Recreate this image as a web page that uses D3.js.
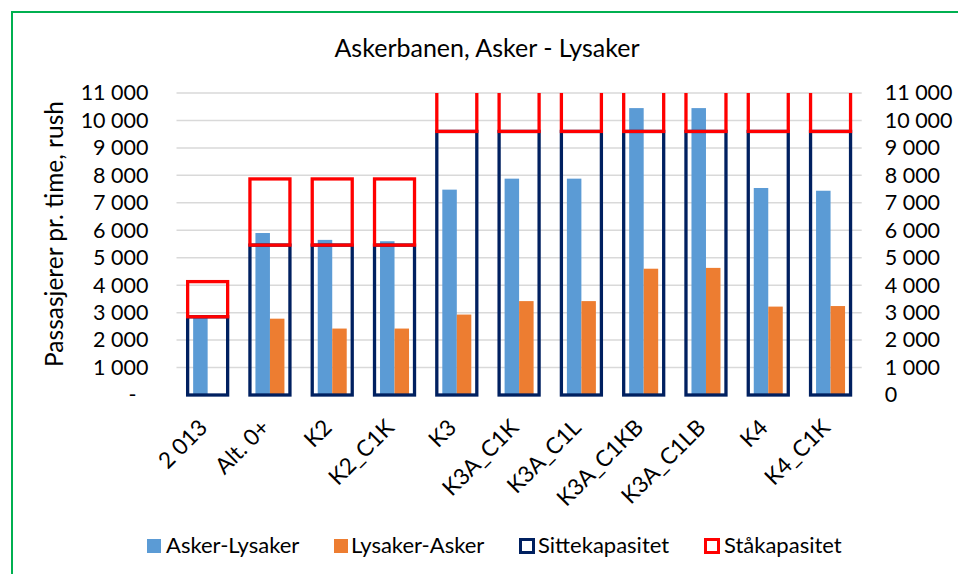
<!DOCTYPE html>
<html>
<head>
<meta charset="utf-8">
<script src="https://cdnjs.cloudflare.com/ajax/libs/d3/7.8.5/d3.min.js"></script>
<style>
  body { margin: 0; background: #fff; }
  text { font-family: Lato, 'Noto Sans', sans-serif; fill: #000; }
</style>
</head>
<body>
<div id="graph"></div>
<script>
'use strict';
// data
var categories = ['2 013', 'Alt. 0+', 'K2', 'K2_C1K', 'K3', 'K3A_C1K', 'K3A_C1L', 'K3A_C1KB', 'K3A_C1LB', 'K4', 'K4_C1K'];
var askerLysaker = [2850, 5900, 5650, 5600, 7480, 7880, 7880, 10450, 10450, 7540, 7440];
var lysakerAsker = [0, 2780, 2420, 2420, 2930, 3420, 3420, 4600, 4630, 3220, 3240];
var sittekapasitet = [2850, 5460, 5460, 5460, 9600, 9600, 9600, 9600, 9600, 9600, 9600];
var staakapasitet = [1280, 2410, 2410, 2410, 4400, 4400, 4400, 4400, 4400, 4400, 4400];
var yTicks = [0, 1000, 2000, 3000, 4000, 5000, 6000, 7000, 8000, 9000, 10000, 11000];
var seriesNames = ['Asker-Lysaker', 'Lysaker-Asker', 'Sittekapasitet', 'Ståkapasitet'];

var canvasWidth = 958;
var canvasHeight = 574;
var plot = { left: 176.5, right: 861.7, top: 93, bottom: 395 };

var colors = { blue: '#5b9bd5', orange: '#ed7d31', navy: '#002060', red: '#ff0000' };

var svg = d3.select('#graph')
  .append('svg')
  .attr('width', canvasWidth)
  .attr('height', canvasHeight);

// green frame of the chart object
svg.append('rect')
  .attr('x', 12)
  .attr('y', 12)
  .attr('width', canvasWidth)
  .attr('height', canvasHeight)
  .attr('fill', 'none')
  .attr('stroke', '#00b050')
  .attr('stroke-width', 2);

var locale = d3.formatLocale({ decimal: ',', thousands: ' ', grouping: [3], currency: ['', ''] });
var fmt = locale.format(',');

var xScale = d3.scaleBand().domain(categories).range([plot.left, plot.right]);
var yScale = d3.scaleLinear().domain([0, 11000]).range([plot.bottom, plot.top]);

// gridlines (no line at 0)
svg.append('g')
  .selectAll('line')
  .data(yTicks.filter(function(d) { return d > 0; }))
  .enter()
  .append('line')
  .attr('x1', plot.left)
  .attr('x2', plot.right)
  .attr('y1', function(d) { return yScale(d); })
  .attr('y2', function(d) { return yScale(d); })
  .attr('stroke', '#d9d9d9')
  .attr('stroke-width', 1.5);

// left axis
var leftAxis = svg.append('g')
  .attr('transform', 'translate(' + (plot.left - 28) + ',0)')
  .call(d3.axisLeft(yScale).tickValues(yTicks).tickSize(0).tickPadding(0)
    .tickFormat(function(d) { return d === 0 ? '-' : fmt(d); }));
// right axis
var rightAxis = svg.append('g')
  .attr('transform', 'translate(' + (plot.right + 23) + ',0)')
  .call(d3.axisRight(yScale).tickValues(yTicks).tickSize(0).tickPadding(0)
    .tickFormat(function(d) { return fmt(d); }));
[leftAxis, rightAxis].forEach(function(ax) {
  ax.select('.domain').remove();
  ax.selectAll('text')
    .attr('font-family', 'Lato, sans-serif')
    .attr('font-size', '21.5px')
    .attr('fill', '#000');
});
leftAxis.selectAll('.tick')
  .filter(function(d) { return d === 0; })
  .select('text')
  .attr('transform', 'translate(-12,0)');

// clustered bars
var barWidth = 14.5;
var bars = svg.append('g');
bars.selectAll('.blue')
  .data(askerLysaker)
  .enter()
  .append('rect')
  .attr('x', function(d, i) { return xScale(categories[i]) + xScale.bandwidth() / 2 - barWidth; })
  .attr('y', function(d) { return yScale(d); })
  .attr('width', barWidth)
  .attr('height', function(d) { return yScale(0) - yScale(d); })
  .attr('fill', colors.blue);
bars.selectAll('.orange')
  .data(lysakerAsker)
  .enter()
  .append('rect')
  .attr('x', function(d, i) { return xScale(categories[i]) + xScale.bandwidth() / 2; })
  .attr('y', function(d) { return yScale(d); })
  .attr('width', barWidth)
  .attr('height', function(d) { return yScale(0) - yScale(d); })
  .attr('fill', colors.orange);

// stacked capacity boxes, clipped to the plot area
svg.append('clipPath')
  .attr('id', 'plotClip')
  .append('rect')
  .attr('x', plot.left - 10)
  .attr('y', plot.top)
  .attr('width', plot.right - plot.left + 20)
  .attr('height', plot.bottom - plot.top + 10);

var boxWidth = 40;
var boxes = svg.append('g').attr('clip-path', 'url(#plotClip)');
boxes.selectAll('.sitte')
  .data(sittekapasitet)
  .enter()
  .append('rect')
  .attr('x', function(d, i) { return xScale(categories[i]) + (xScale.bandwidth() - boxWidth) / 2; })
  .attr('y', function(d) { return yScale(d); })
  .attr('width', boxWidth)
  .attr('height', function(d) { return yScale(0) - yScale(d); })
  .attr('fill', 'none')
  .attr('stroke', colors.navy)
  .attr('stroke-width', 3.3);
boxes.selectAll('.staa')
  .data(staakapasitet)
  .enter()
  .append('rect')
  .attr('x', function(d, i) { return xScale(categories[i]) + (xScale.bandwidth() - boxWidth) / 2; })
  .attr('y', function(d, i) { return yScale(sittekapasitet[i] + d); })
  .attr('width', boxWidth)
  .attr('height', function(d, i) { return yScale(sittekapasitet[i]) - yScale(sittekapasitet[i] + d); })
  .attr('fill', 'none')
  .attr('stroke', colors.red)
  .attr('stroke-width', 3.3);

// category labels, rotated
svg.append('g')
  .selectAll('text')
  .data(categories)
  .enter()
  .append('text')
  .attr('transform', function(d) {
    return 'translate(' + (xScale(d) + xScale.bandwidth() / 2 + 1) + ',' + 429 + ') rotate(-45)';
  })
  .attr('text-anchor', 'end')
  .attr('font-size', '22.5px')
  .text(function(d) { return d; });

// title
svg.append('text')
  .attr('x', 487)
  .attr('y', 57)
  .attr('text-anchor', 'middle')
  .attr('font-size', '25px')
  .text('Askerbanen, Asker - Lysaker');

// y axis title
svg.append('text')
  .attr('transform', 'translate(63,234) rotate(-90)')
  .attr('text-anchor', 'middle')
  .attr('font-size', '24.5px')
  .text('Passasjerer pr. time, rush');

// legend
var legendX = [147, 334, 519, 704];
var legendTextX = [166, 351, 538, 724];
var legend = svg.append('g');
legend.append('rect').attr('x', legendX[0]).attr('y', 539).attr('width', 14).attr('height', 14).attr('fill', colors.blue);
legend.append('rect').attr('x', legendX[1]).attr('y', 539).attr('width', 14).attr('height', 14).attr('fill', colors.orange);
legend.append('rect').attr('x', legendX[2] + 1.5).attr('y', 539.5).attr('width', 13).attr('height', 13)
  .attr('fill', 'none').attr('stroke', colors.navy).attr('stroke-width', 3);
legend.append('rect').attr('x', legendX[3] + 1.5).attr('y', 539.5).attr('width', 13).attr('height', 13)
  .attr('fill', 'none').attr('stroke', colors.red).attr('stroke-width', 3);
legend.selectAll('text')
  .data(seriesNames)
  .enter()
  .append('text')
  .attr('x', function(d, i) { return legendTextX[i]; })
  .attr('y', 553)
  .attr('font-size', '22px')
  .text(function(d) { return d; });
</script>
</body>
</html>
